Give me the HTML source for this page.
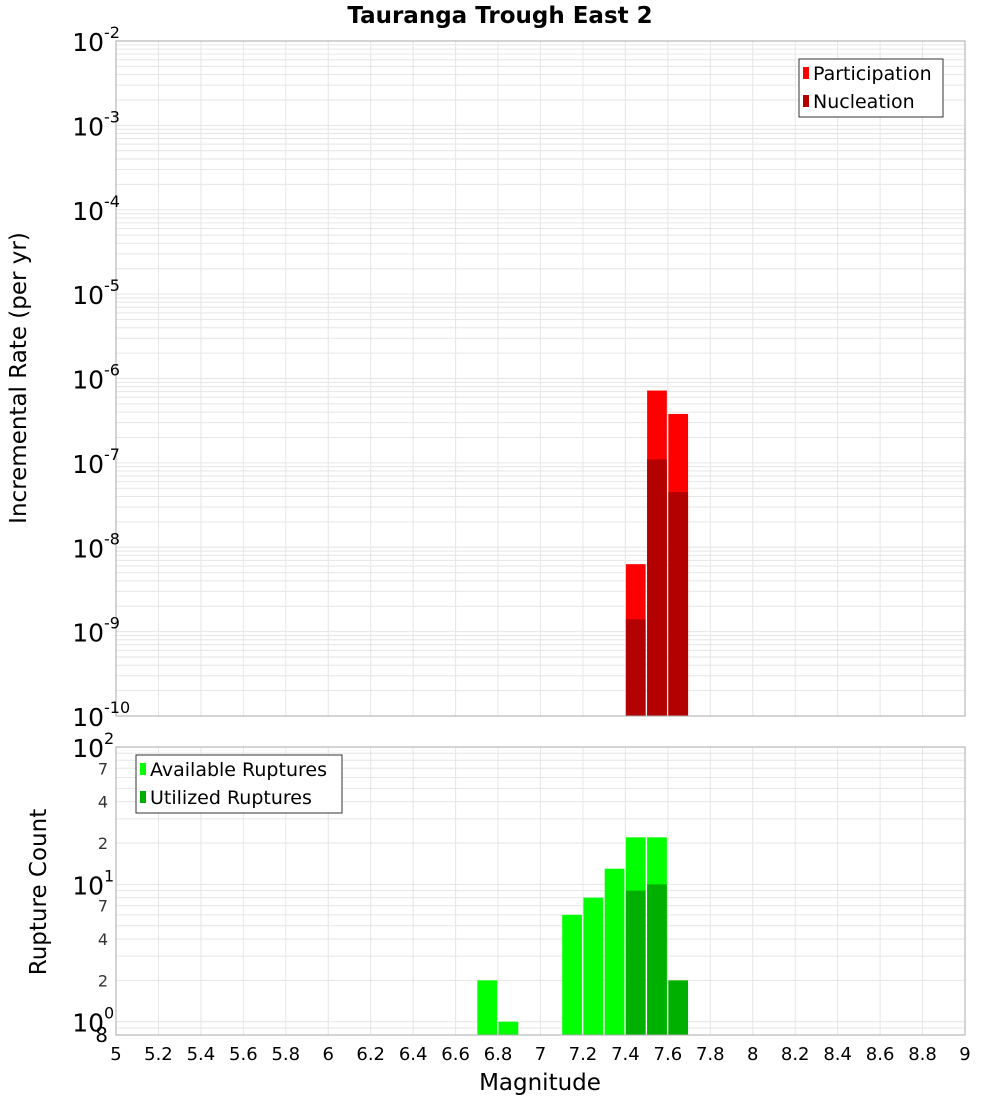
<!DOCTYPE html>
<html><head><meta charset="utf-8"><style>
html,body{margin:0;padding:0;background:#fff;}
svg{display:block;font-family:"DejaVu Sans","Liberation Sans",sans-serif;}
</style></head><body>
<svg id="c" width="1000" height="1100" xmlns="http://www.w3.org/2000/svg"></svg>
<script>
const binStarts = [6.7, 6.8, 7.1, 7.2, 7.3, 7.4, 7.5, 7.6];
const rateBins = [7.4, 7.5, 7.6];
const participation = [6.3e-9, 7.2e-7, 3.8e-7];
const nucleation = [1.4e-9, 1.1e-7, 4.5e-8];
const available = [2, 1, 6, 8, 13, 22, 22, 0];
const utilized = [0, 0, 0, 0, 0, 9, 10, 2];
const xTicks = [5,5.2,5.4,5.6,5.8,6,6.2,6.4,6.6,6.8,7,7.2,7.4,7.6,7.8,8,8.2,8.4,8.6,8.8,9];
const topExps = [-2,-3,-4,-5,-6,-7,-8,-9,-10];
const botExps = [2,1,0];
const botMinorLabels = [7,4,2];

const NS="http://www.w3.org/2000/svg", svg=document.getElementById('c');
function el(t,a,p){const e=document.createElementNS(NS,t);for(const k in a)e.setAttribute(k,a[k]);(p||svg).appendChild(e);return e;}
const X0=116,X1=965;
const xs=v=>X0+(v-5)/(4)*(X1-X0);
const T0=41,T1=716; const ty=v=>T0+(-2-Math.log10(v))/8*(T1-T0);
const B0=747,B1=1035; const by=v=>B0+(2-Math.log10(v))/(2-Math.log10(0.8))*(B1-B0);

let t=el('text',{x:500,y:23,'text-anchor':'middle','font-size':23,'font-weight':'bold'});t.textContent='Tauranga Trough East 2';


function grid(y0,y1,yf,decs,lo,hi,g){
  for(let v=5;v<=9.001;v+=0.2){el('line',{x1:xs(v),x2:xs(v),y1:y0,y2:y1,stroke:'#e6e6e6','stroke-width':1},g);}
  for(let d=decs[0];d<decs[1];d++){for(let m=1;m<10;m++){const v=m*Math.pow(10,d);if(v<lo||v>hi)continue;const y=yf(v);el('line',{x1:X0,x2:X1,y1:y,y2:y,stroke:'#e6e6e6','stroke-width':1},g);}}
}
const gTop=el('g',{});
grid(T0,T1,ty,[-10,-2],1e-10,1e-2,gTop);
rateBins.forEach((b,i)=>{
  const x=xs(b)+0.5,w=xs(b+0.1)-xs(b)-1.5;
  let r=el('rect',{x:x,y:ty(participation[i]),width:w,height:T1-ty(participation[i]),fill:'#ff0000'},gTop);
  
  r=el('rect',{x:x,y:ty(nucleation[i]),width:w,height:T1-ty(nucleation[i]),fill:'#b30000'},gTop);
  
});
el('rect',{x:X0,y:T0,width:X1-X0,height:T1-T0,fill:'none',stroke:'#aaa'},gTop);
topExps.forEach(e=>{
  const y=ty(Math.pow(10,e));
  const tx=el('text',{x:104,y:y+10,'text-anchor':'end','font-size':25},gTop);
  tx.textContent='10';
  
  const s=el('text',{x:104,y:y-3,'font-size':16},gTop);s.textContent=String(e);
});
t=el('text',{x:0,y:0,'text-anchor':'middle','font-size':23,transform:'translate(26,378) rotate(-90)'});t.textContent='Incremental Rate (per yr)';

const lg=el('g',{});
el('rect',{x:799,y:59,width:144,height:58,fill:'#fff',stroke:'#333'},lg);
el('rect',{x:803,y:67,width:6,height:12,fill:'#ff0000'},lg);
t=el('text',{x:813,y:80,'font-size':19},lg);t.textContent='Participation';
el('rect',{x:803,y:95,width:6,height:12,fill:'#b30000'},lg);
t=el('text',{x:813,y:108,'font-size':19},lg);t.textContent='Nucleation';

const gB=el('g',{});
grid(B0,B1,by,[-1,2],0.8,100,gB);
binStarts.forEach((b,i)=>{
  const x=xs(b)+0.5,w=xs(b+0.1)-xs(b)-1.5;
  if(available[i]>0){const r=el('rect',{x:x,y:by(available[i]),width:w,height:B1-by(available[i]),fill:'#00ff00'},gB);
  }
  if(utilized[i]>0){const r=el('rect',{x:x,y:by(utilized[i]),width:w,height:B1-by(utilized[i]),fill:'#00b000'},gB);
  }
});
el('rect',{x:X0,y:B0,width:X1-X0,height:B1-B0,fill:'none',stroke:'#aaa'},gB);
botExps.forEach(e=>{
  const y=by(Math.pow(10,e));
  const tx=el('text',{x:104,y:y+10,'text-anchor':'end','font-size':25},gB);tx.textContent='10';
  
  const s=el('text',{x:104,y:y-3,'font-size':16},gB);s.textContent=String(e);
  if(e>0) botMinorLabels.forEach(m=>{const v=m*Math.pow(10,e-1);const l=el('text',{x:108,y:by(v)+6,'text-anchor':'end','font-size':16,fill:'#333'},gB);l.textContent=String(m);});
});
t=el('text',{x:108,y:1042,'text-anchor':'end','font-size':20},gB);t.textContent='8';
t=el('text',{x:0,y:0,'text-anchor':'middle','font-size':23,transform:'translate(46,892) rotate(-90)'});t.textContent='Rupture Count';

const lb=el('g',{});
el('rect',{x:136,y:755,width:206,height:58,fill:'#fff',stroke:'#333'},lb);
el('rect',{x:140,y:763,width:6,height:12,fill:'#00ff00'},lb);
t=el('text',{x:150,y:776,'font-size':19},lb);t.textContent='Available Ruptures';
el('rect',{x:140,y:791,width:6,height:12,fill:'#00b000'},lb);
t=el('text',{x:150,y:804,'font-size':19},lb);t.textContent='Utilized Ruptures';

xTicks.forEach(v=>{const l=el('text',{x:xs(v),y:1060,'text-anchor':'middle','font-size':18});l.textContent=String(v);
});
t=el('text',{x:540,y:1090,'text-anchor':'middle','font-size':23});t.textContent='Magnitude';

</script>
</body></html>
